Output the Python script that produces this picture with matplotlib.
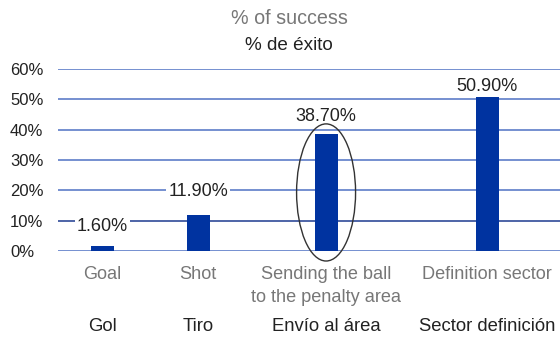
import matplotlib.pyplot as plt
from matplotlib.patches import Ellipse

plt.rcParams['font.family'] = ['Liberation Sans', 'DejaVu Sans']

labels_en = ['Goal', 'Shot', 'Sending the ball\nto the penalty area', 'Definition sector']
labels_es = ['Gol', 'Tiro', 'Envío al área', 'Sector definición']
success = [1.6, 11.9, 38.7, 50.9]
yticks = [0, 10, 20, 30, 40, 50, 60]

# bar centres are not evenly spaced, so place them by hand (axes x runs 0..1)
xpos = [0.088, 0.279, 0.534, 0.855]
# how far each value label sits above its bar, in points
label_gap = [14.4, 16.5, 12, 7.6]

fig = plt.figure(figsize=(5.6, 3.38), dpi=100)
ax = fig.add_axes([0.1036, 0.2574, 0.8964, 0.5385])

for v in yticks:
    col = '#1d3a8f' if v == 10 else '#4f72c4'
    ax.axhline(v, color=col, lw=1.1, zorder=0)

ax.bar(xpos, success, width=0.046, color='#0033a0', zorder=4)

for x, v, g in zip(xpos, success, label_gap):
    ax.annotate(f'{v:.2f}%', (x, v), xytext=(0, g), textcoords='offset points',
                ha='center', va='center', fontsize=13, color='#222222',
                bbox=dict(boxstyle='square,pad=0.1', fc='white', ec='none'),
                zorder=3)

# highlight the "sending the ball" bar
ax.add_patch(Ellipse((xpos[2], 19.3), 0.1175, 45.2, fill=False,
                     ec='#333333', lw=1.0, zorder=5, clip_on=False))

ax.set_xlim(0, 1)
ax.set_ylim(0, 60)
ax.set_yticks(yticks, [f'{v}%' for v in yticks])
ax.tick_params(axis='y', length=0, pad=34.5, labelsize=12, labelcolor='#222222')
for t in ax.get_yticklabels():
    t.set_horizontalalignment('left')
ax.set_xticks(xpos, labels_en)
ax.tick_params(axis='x', length=0, pad=11, labelsize=13.1, labelcolor='#777777')
for t in ax.get_xticklabels():
    t.set_linespacing(1.45)

for x, lab in zip(xpos, labels_es):
    ax.annotate(lab, (x, 0), xycoords=('data', 'axes fraction'),
                xytext=(0, -54.5), textcoords='offset points',
                ha='center', va='center', fontsize=13.3, color='#222222',
                annotation_clip=False)

for s in ax.spines.values():
    s.set_visible(False)

fig.text(0.516, 0.945, '% of success', ha='center', va='center', fontsize=14.2, color='#777777')
fig.text(0.516, 0.865, '% de éxito', ha='center', va='center', fontsize=13.6, color='#222222')

fig.savefig('out.png', dpi=100)
